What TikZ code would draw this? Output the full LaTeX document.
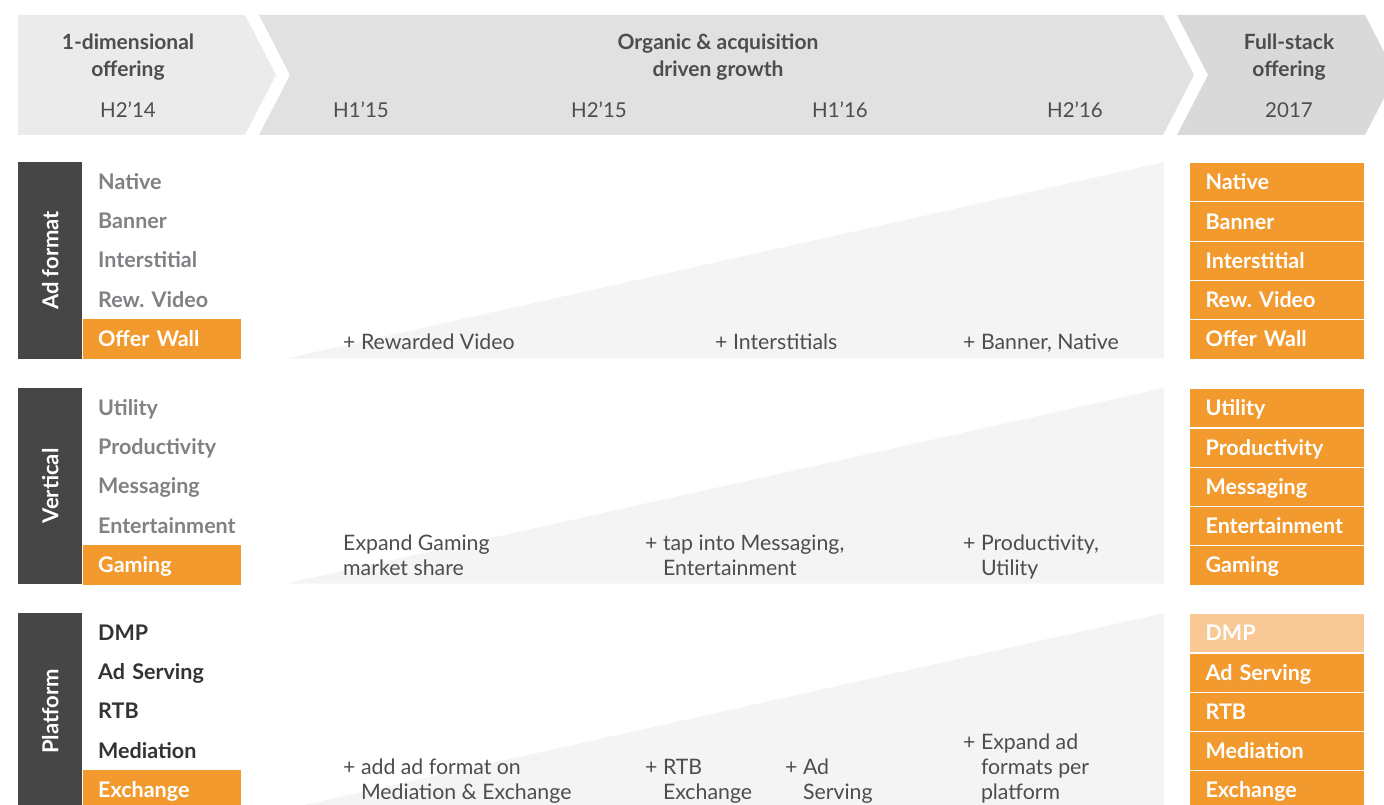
\documentclass[tikz,border=0pt]{standalone}
\usepackage{fontspec}
\setmainfont{Lato}
\frenchspacing
\definecolor{orng}{HTML}{F39A2E}
\definecolor{lorng}{HTML}{F8C995}
\definecolor{dk}{HTML}{464646}
\definecolor{txt}{HTML}{4D4D4D}
\definecolor{gtxt}{HTML}{808184}
\definecolor{ptxt}{HTML}{333333}
\definecolor{tri}{HTML}{F4F4F4}
\definecolor{chA}{HTML}{EBEBEB}
\definecolor{chB}{HTML}{E1E1E1}
\definecolor{chC}{HTML}{D9D9D9}
\begin{document}
\begin{tikzpicture}[x=1pt,y=-1pt,
  hdr/.style={font=\fontsize{21}{27}\selectfont\bfseries, text=txt, align=center, inner sep=0},
  per/.style={font=\fontsize{20.5}{23}\selectfont, text=txt, inner sep=0},
  catbox/.style={fill=dk, minimum width=64, minimum height=196.5, inner sep=0, anchor=north west},
  cattext/.style={rotate=90, text=white, font=\fontsize{22}{24}\selectfont\bfseries, inner sep=0},
  rowl/.style={anchor=north west, minimum width=158, minimum height=39.3, text width=128, inner xsep=15, inner ysep=0, align=left, text height=17, text depth=2, font=\fontsize{21.5}{23}\selectfont\bfseries},
  rowr/.style={anchor=north west, minimum width=175, minimum height=39.3, text width=143, inner xsep=16, inner ysep=0, align=left, text height=17, text depth=2, font=\fontsize{21.5}{23}\selectfont\bfseries, fill=orng, text=white, draw=white, line width=1.2pt},
  mid/.style={anchor=base west, align=left, inner sep=0, text=txt, font=\fontsize{21.3}{25}\selectfont}
]
\useasboundingbox (0,0) rectangle (1384,805);
\clip (0,0) rectangle (1384,805);
% header chevrons
\fill[chA] (18,15) -- (245,15) -- (276,75) -- (245,135) -- (18,135) -- cycle;
\fill[chB] (259,15) -- (1163,15) -- (1194,75) -- (1163,135) -- (259,135) -- (290,75) -- cycle;
\fill[chC] (1177,15) -- (1365,15) -- (1396,75) -- (1365,135) -- (1177,135) -- (1208,75) -- cycle;
\node[hdr] (h1) at (128,57) {1-dimensional\\offering};
\node[hdr] (h2) at (718,57) {Organic \& acquisition\\driven growth};
\node[hdr] (h3) at (1289,57) {Full-stack\\offering};
\node[per] (p0) at (128,110) {H2’14};
\node[per] (p1) at (361,110) {H1’15};
\node[per] (p2) at (599,110) {H2’15};
\node[per] (p3) at (840,110) {H1’16};
\node[per] (p4) at (1075,110) {H2’16};
\node[per] (p5) at (1289,110) {2017};
% growth wedges
\fill[tri] (286,358.5) -- (1164,162) -- (1164,358.5) -- cycle;
\fill[tri] (286,583.5) -- (1164,388) -- (1164,583.5) -- cycle;
\fill[tri] (286,809) -- (1164,613) -- (1164,809) -- cycle;
% category boxes
\node[catbox] (cA) at (18,162) {};
\node[cattext] (cAt) at (cA.center) {Ad format};
\node[catbox] (cB) at (18,387.5) {};
\node[cattext] (cBt) at (cB.center) {Vertical};
\node[catbox] (cC) at (18,613) {};
\node[cattext] (cCt) at (cC.center) {Platform};
% left rows
\foreach \t [count=\i from 0] in {Native,Banner,Interstitial,Rew. Video}
  \node[rowl, text=gtxt] (la\i) at (83,162+39.3*\i) {\t};
\node[rowl, fill=orng, text=white] (la4) at (83,162+39.3*4) {Offer Wall};
\foreach \t [count=\i from 0] in {Utility,Productivity,Messaging,Entertainment}
  \node[rowl, text=gtxt] (lb\i) at (83,388+39.3*\i) {\t};
\node[rowl, fill=orng, text=white] (lb4) at (83,388+39.3*4) {Gaming};
\foreach \t [count=\i from 0] in {DMP,Ad Serving,RTB,Mediation}
  \node[rowl, text=ptxt] (lc\i) at (83,613+39.3*\i) {\t};
\node[rowl, fill=orng, text=white] (lc4) at (83,613+39.3*4) {Exchange};
% right rows
\foreach \t [count=\i from 0] in {Native,Banner,Interstitial,Rew. Video,Offer Wall}
  \node[rowr] (ra\i) at (1189,162+39.3*\i) {\t};
\foreach \t [count=\i from 0] in {Utility,Productivity,Messaging,Entertainment,Gaming}
  \node[rowr] (rb\i) at (1189,388+39.3*\i) {\t};
\node[rowr, fill=lorng] (rc0) at (1189,613) {DMP};
\foreach \t [count=\i from 1] in {Ad Serving,RTB,Mediation,Exchange}
  \node[rowr] (rc\i) at (1189,613+39.3*\i) {\t};
% middle texts (base anchor = last line)
\node[mid] (ma1) at (343,349) {+ Rewarded Video};
\node[mid] (ma2) at (715,349) {+ Interstitials};
\node[mid] (ma3) at (963,349) {+ Banner, Native};
\node[mid] (mb1) at (343,575) {Expand Gaming\\market share};
\node[mid] (mb2) at (645,575) {+ tap into Messaging,\\\hphantom{+ }Entertainment};
\node[mid] (mb3) at (963,575) {+ Productivity,\\\hphantom{+ }Utility};
\node[mid] (mc1) at (343,799) {+ add ad format on\\\hphantom{+ }Mediation \& Exchange};
\node[mid] (mc2) at (645,799) {+ RTB\\\hphantom{+ }Exchange};
\node[mid] (mc3) at (785,799) {+ Ad\\\hphantom{+ }Serving};
\node[mid] (mc4) at (963,799) {+ Expand ad\\\hphantom{+ }formats per\\\hphantom{+ }platform};
\end{tikzpicture}
\end{document}
